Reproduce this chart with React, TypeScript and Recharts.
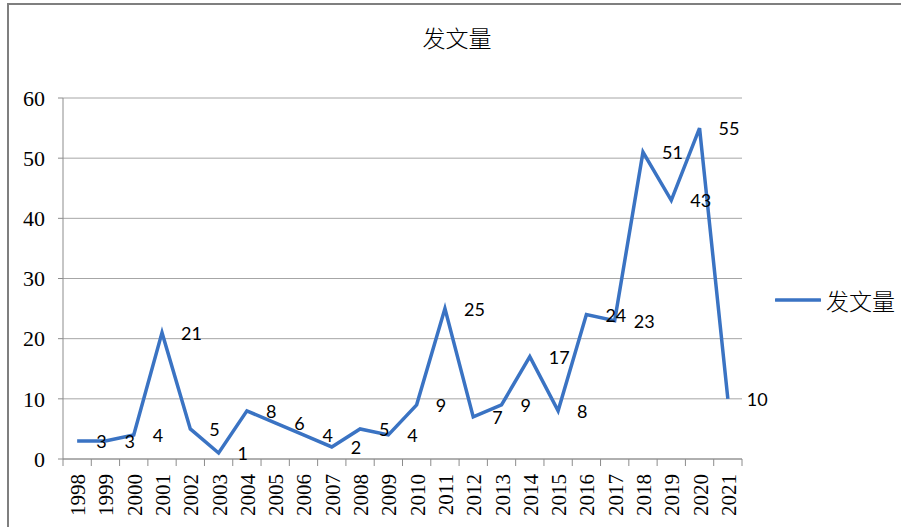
import React from "react";
import { LineChart, Line, XAxis, YAxis, CartesianGrid, LabelList } from "recharts";

const years = ["1998","1999","2000","2001","2002","2003","2004","2005","2006","2007","2008","2009","2010","2011","2012","2013","2014","2015","2016","2017","2018","2019","2020","2021"];
const counts = [3,3,4,21,5,1,8,6,4,2,5,4,9,25,7,9,17,8,24,23,51,43,55,10];
const yTicks = [0,10,20,30,40,50,60];
const seriesName = "发文量";
const title = "发文量";

const data = years.map((y, i) => ({ year: y, value: counts[i] }));

const W = 901;
const H = 527;
const PLOT_LEFT = 63;
const PLOT_RIGHT = 742;
const PLOT_TOP = 98;
const PLOT_BOTTOM = 459;
const HALF = (PLOT_RIGHT - PLOT_LEFT) / years.length / 2;
const LINE_COLOR = "#3A73C3";
const AXIS_COLOR = "#8c8c8c";
const GRID_COLOR = "#a6a6a6";

const XTick = (props: any) => {
  const { x, y, payload, index } = props;
  const last = index === years.length - 1;
  return (
    <g>
      <line x1={x - HALF} y1={y} x2={x - HALF} y2={y + 7} stroke={AXIS_COLOR} strokeWidth={1} />
      {last && <line x1={x + HALF} y1={y} x2={x + HALF} y2={y + 7} stroke={AXIS_COLOR} strokeWidth={1} />}
      <text
        x={x + 1}
        y={y + 15}
        transform={`rotate(-90, ${x + 1}, ${y + 15})`}
        textAnchor="end"
        dominantBaseline="central"
        fontFamily="'Liberation Serif', 'Times New Roman', serif"
        fontSize={21}
        fill="#000"
      >
        {payload.value}
      </text>
    </g>
  );
};

const ValueLabel = (props: any) => {
  const { x, y, value } = props;
  return (
    <text
      x={x + 19}
      y={y}
      textAnchor="start"
      dominantBaseline="central"
      fontFamily="Lato, 'Open Sans', sans-serif"
      fontSize={18}
      fill="#000"
    >
      {value}
    </text>
  );
};

export default function App() {
  return (
    <div style={{ position: "absolute", left: 0, top: 0, width: W, height: H, background: "#fff", overflow: "hidden" }}>
      <div
        style={{
          position: "absolute",
          left: 7,
          top: 3,
          width: W,
          height: H,
          borderLeft: "2px solid #7f7f7f",
          borderTop: "2px solid #7f7f7f",
          boxSizing: "border-box",
        }}
      />
      <div
        style={{
          position: "absolute",
          left: 0,
          top: 22,
          width: 914,
          textAlign: "center",
          fontFamily: "'Noto Sans CJK SC', sans-serif",
          fontWeight: 300,
          fontSize: 23,
          lineHeight: "30px",
          color: "#000",
        }}
      >
        {title}
      </div>
      <div style={{ position: "absolute", left: 0, top: 0 }}>
        <LineChart
          width={W}
          height={H}
          data={data}
          margin={{ top: PLOT_TOP, right: W - PLOT_RIGHT, bottom: 0, left: 0 }}
        >
          <CartesianGrid vertical={false} stroke={GRID_COLOR} strokeWidth={1} />
          <XAxis
            dataKey="year"
            height={H - PLOT_BOTTOM}
            padding={{ left: HALF, right: HALF }}
            interval={0}
            tickLine={false}
            tickSize={0}
            tickMargin={0}
            axisLine={{ stroke: AXIS_COLOR, strokeWidth: 1 }}
            tick={<XTick />}
          />
          <YAxis
            width={PLOT_LEFT}
            domain={[0, 60]}
            ticks={yTicks}
            interval={0}
            tickSize={5}
            tickMargin={13}
            axisLine={{ stroke: AXIS_COLOR, strokeWidth: 1 }}
            tickLine={{ stroke: AXIS_COLOR, strokeWidth: 1 }}
            tick={{ fontFamily: "'Liberation Serif', 'Times New Roman', serif", fontSize: 22, fill: "#000" }}
          />
          <Line
            type="linear"
            dataKey="value"
            name={seriesName}
            stroke={LINE_COLOR}
            strokeWidth={3.5}
            dot={false}
            activeDot={false}
            isAnimationActive={false}
          >
            <LabelList dataKey="value" content={<ValueLabel />} />
          </Line>
        </LineChart>
      </div>
      <div
        style={{
          position: "absolute",
          left: 775,
          top: 285,
          display: "flex",
          alignItems: "center",
          height: 30,
        }}
      >
        <svg width={46} height={8} style={{ display: "block" }}>
          <line x1={1} y1={4} x2={45} y2={4} stroke={LINE_COLOR} strokeWidth={3.5} strokeLinecap="round" />
        </svg>
        <span
          style={{
            marginLeft: 5,
            fontFamily: "'Noto Sans CJK SC', sans-serif",
            fontWeight: 300,
            fontSize: 23,
            lineHeight: "30px",
            color: "#000",
          }}
        >
          {seriesName}
        </span>
      </div>
    </div>
  );
}
